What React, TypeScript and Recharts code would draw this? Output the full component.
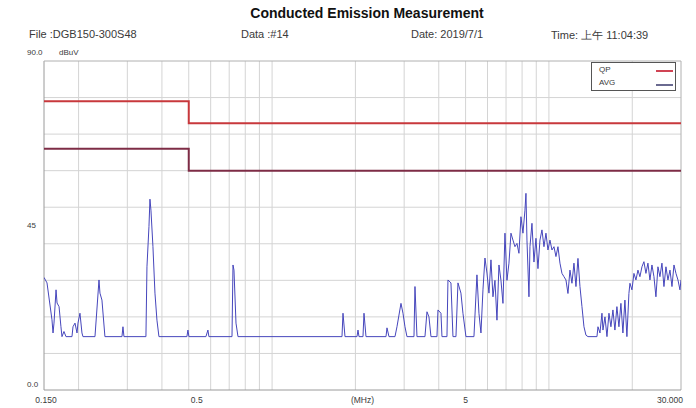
import React from 'react';
import { LineChart, Line, XAxis, YAxis, ReferenceLine } from 'recharts';

// Measured trace (frequency in MHz, level in dBuV)
const freqMHz = [
  0.15, 0.1538, 0.1603, 0.1617, 0.163, 0.1658, 0.1672, 0.17, 0.1727, 0.1742, 0.1771, 0.1801,
  0.1893, 0.1909, 0.1941, 0.1974, 0.199, 0.2023, 0.2057, 0.2074, 0.2292, 0.237, 0.2389, 0.2429,
  0.249, 0.2869, 0.2893, 0.2917, 0.3502, 0.3532, 0.3591, 0.3621, 0.3651, 0.3712, 0.3775, 0.3838,
  0.3902, 0.4924, 0.4966, 0.5007, 0.5768, 0.5864, 0.5913, 0.7164, 0.7224, 0.7284, 0.7407, 0.7531,
  1.7887, 1.8036, 1.8339, 2.0263, 2.0432, 2.0603, 2.13, 2.1478, 2.1838, 2.579, 2.6005, 2.644,
  2.7793, 2.8259, 2.9214, 2.9704, 3.0202, 3.0709, 3.255, 3.2821, 3.3372, 3.5666, 3.6265, 3.6873,
  3.7491, 3.941, 3.9739, 4.0741, 4.1082, 4.2826, 4.3183, 4.4277, 4.5019, 4.6156, 4.693, 4.8108,
  4.8915, 5.0151, 5.3604, 5.4958, 5.5879, 5.682, 5.7773, 5.8742, 5.9728, 6.0729, 6.1751, 6.2787,
  6.384, 6.4911, 6.6, 6.7106, 6.8231, 6.9375, 7.0539, 7.1722, 7.2924, 7.4147, 7.539, 7.6655,
  7.794, 7.9256, 8.0585, 8.1937, 8.2621, 8.3311, 8.4708, 8.541, 8.6842, 8.8299, 8.978, 9.1285,
  9.282, 9.4377, 9.596, 9.757, 9.9205, 10.087, 10.256, 10.428, 10.603, 10.781, 10.962, 11.146,
  11.333, 11.523, 11.716, 11.913, 12.113, 12.316, 12.522, 12.732, 12.946, 13.163, 13.384, 13.608,
  13.837, 14.913, 15.038, 15.29, 15.546, 15.676, 15.939, 16.206, 16.478, 16.749, 17.03, 17.315,
  17.605, 17.901, 18.201, 18.506, 18.816, 19.132, 19.453, 19.62, 19.949, 20.284, 20.624, 20.97,
  21.32, 21.678, 22.041, 22.411, 22.787, 23.17, 23.559, 23.954, 24.355, 24.764, 25.18, 25.602,
  26.032, 26.468, 26.912, 27.37, 27.829, 28.296, 28.77, 29.253, 29.74, 30.0,
];
const levelDb = [
  30.8, 29.3, 19.2, 15.6, 18.3, 27.4, 23.8, 22.8, 17.3, 14.6, 16.0, 14.6,
  14.6, 17.3, 18.3, 15.6, 18.3, 21.0, 15.6, 14.6, 14.6, 30.1, 26.5, 24.6,
  14.6, 14.6, 17.3, 14.6, 14.6, 33.7, 44.7, 52.2, 49.2, 39.2, 26.5, 19.1,
  14.6, 14.6, 16.4, 14.6, 14.6, 16.4, 14.6, 14.6, 34.2, 32.8, 18.3, 14.6,
  14.6, 21.0, 14.6, 14.6, 16.4, 14.6, 14.6, 21.0, 14.6, 14.6, 17.0, 14.6,
  14.6, 17.3, 23.7, 21.0, 17.3, 14.6, 14.6, 28.3, 14.6, 14.6, 21.4, 20.0,
  14.6, 14.6, 21.9, 21.0, 14.6, 14.6, 30.1, 29.3, 14.6, 14.6, 29.3, 26.5,
  21.0, 14.6, 14.6, 31.5, 21.0, 15.6, 27.4, 36.1, 32.0, 26.5, 35.6, 25.5,
  30.0, 19.1, 34.2, 30.0, 23.7, 42.9, 30.0, 34.7, 42.9, 41.0, 39.2, 40.1,
  37.4, 47.4, 42.9, 49.2, 53.8, 41.0, 25.5, 39.2, 45.6, 35.0, 41.5, 33.2,
  41.0, 43.8, 39.2, 42.9, 38.3, 41.0, 38.3, 39.2, 36.5, 39.2, 34.7, 31.9,
  31.0, 30.1, 26.4, 32.8, 29.2, 34.7, 28.3, 36.0, 28.3, 22.8, 17.3, 15.0,
  14.6, 14.6, 17.3, 15.6, 21.0, 16.4, 20.0, 14.6, 21.0, 17.3, 21.9, 16.4,
  22.8, 17.3, 23.7, 15.6, 24.6, 14.6, 26.4, 29.2, 27.4, 31.9, 30.1, 32.8,
  31.0, 33.7, 35.1, 31.9, 34.7, 30.1, 34.2, 31.0, 25.5, 33.7, 31.0, 34.7,
  28.3, 33.7, 30.1, 32.8, 28.3, 34.2, 31.9, 30.1, 27.4, 30.1,
];

// Limit lines
const qpLimitFreq = [0.15, 0.5, 0.5, 30];
const qpLimitDb = [79, 79, 73, 73];
const avgLimitFreq = [0.15, 0.5, 0.5, 30];
const avgLimitDb = [66, 66, 60, 60];

// Grid and ticks
const gridFreqs = [0.2, 0.3, 0.4, 0.5, 0.6, 0.7, 0.8, 0.9, 1, 2, 3, 4, 5, 6, 7, 8, 9, 10, 20];
const gridLevels = [10, 20, 30, 40, 50, 60, 70, 80];
const xTickValues = [0.15, 0.5, 5, 30];
const xTickLabels = ['0.150', '0.5', '5', '30.000'];
const yTickValues = [0, 45, 90];
const yTickLabels = ['0.0', '45', '90.0'];
const legendNames = ['QP', 'AVG'];

const traceData = freqMHz.map((f, i) => ({ f, db: levelDb[i] }));
const qpData = qpLimitFreq.map((f, i) => ({ f, db: qpLimitDb[i] }));
const avgData = avgLimitFreq.map((f, i) => ({ f, db: avgLimitDb[i] }));

const FONT = '"Liberation Sans", Arial, sans-serif';
const TEXT = '#3a3a3a';

const XTick = (props: any) => {
  const { x, y, payload } = props;
  const i = xTickValues.indexOf(payload.value);
  const label = i >= 0 ? xTickLabels[i] : '';
  let anchor: 'start' | 'middle' | 'end' = 'middle';
  let dx = 0;
  if (i === 0) dx = 2;
  if (i === 1) dx = 8;
  if (i === 3) { anchor = 'end'; dx = 2; }
  return (
    <text x={x + dx} y={y} dy={5} textAnchor={anchor} fontSize={8.5} fill={TEXT} fontFamily={FONT}>
      {label}
    </text>
  );
};

const YTick = (props: any) => {
  const { y, payload, x } = props;
  const i = yTickValues.indexOf(payload.value);
  const label = i >= 0 ? yTickLabels[i] : '';
  const lx = x - 9;
  let dy = 2;
  if (payload.value === 0) dy = -3;
  if (payload.value === 90) dy = -6;
  return (
    <g>
      <text x={lx} y={y} dy={dy} textAnchor="start" fontSize={8} fill={TEXT} fontFamily={FONT}>
        {label}
      </text>
      {payload.value === 90 ? (
        <text x={lx + 32} y={y} dy={dy} textAnchor="start" fontSize={8} fill={TEXT} fontFamily={FONT}>
          dBuV
        </text>
      ) : null}
    </g>
  );
};

const LegendBox = () => (
  <div
    style={{
      position: 'absolute',
      left: 591,
      top: 62,
      width: 85,
      height: 29,
      border: '1px solid #555',
      background: '#fff',
      fontFamily: FONT,
      fontSize: 8,
      color: TEXT,
      boxSizing: 'border-box',
    }}
  >
    <div style={{ position: 'absolute', left: 7, top: 2 }}>{legendNames[0]}</div>
    <div style={{ position: 'absolute', left: 64, top: 7, width: 17, height: 2, background: '#d04454' }} />
    <div style={{ position: 'absolute', left: 7, top: 15 }}>{legendNames[1]}</div>
    <div style={{ position: 'absolute', left: 64, top: 21, width: 17, height: 2, background: '#6a6a90' }} />
  </div>
);

export default function App() {
  return (
    <div style={{ position: 'absolute', left: 0, top: 0, width: 696, height: 408, background: '#fff' }}>
      <div
        style={{
          position: 'absolute',
          left: 0,
          width: 734,
          top: 5,
          textAlign: 'center',
          fontFamily: FONT,
          fontWeight: 'bold',
          fontSize: 14,
          color: '#111',
        }}
      >
        Conducted Emission Measurement
      </div>
      <div style={{ position: 'absolute', left: 29, top: 28, fontFamily: FONT, fontSize: 11, color: TEXT }}>
        File :DGB150-300S48
      </div>
      <div style={{ position: 'absolute', left: 241, top: 28, fontFamily: FONT, fontSize: 11, color: TEXT }}>
        Data :#14
      </div>
      <div style={{ position: 'absolute', left: 411, top: 28, fontFamily: FONT, fontSize: 11, color: TEXT }}>
        Date: 2019/7/1
      </div>
      <div style={{ position: 'absolute', left: 551, top: 28, fontFamily: FONT, fontSize: 11, color: TEXT }}>
        Time: 上午 11:04:39
      </div>
      <div style={{ position: 'absolute', left: 0, top: 0 }}>
        <LineChart width={696} height={408} margin={{ top: 61, right: 15, bottom: 0, left: 4 }}>
          <XAxis
            dataKey="f"
            type="number"
            scale="log"
            domain={[0.15, 30]}
            allowDataOverflow
            ticks={xTickValues}
            tick={<XTick />}
            axisLine={false}
            tickLine={false}
            height={18}
            interval={0}
            label={{ value: '(MHz)', position: 'insideTop', offset: 7, fontSize: 8.5, fill: TEXT, fontFamily: FONT }}
          />
          <YAxis
            type="number"
            domain={[0, 90]}
            allowDataOverflow
            ticks={yTickValues}
            tick={<YTick />}
            axisLine={false}
            tickLine={false}
            width={40}
            interval={0}
          />
          {gridFreqs.map((f) => (
            <ReferenceLine key={'gx' + f} x={f} stroke="#d4d4d4" strokeWidth={1} />
          ))}
          {gridLevels.map((v) => (
            <ReferenceLine key={'gy' + v} y={v} stroke="#d4d4d4" strokeWidth={1} />
          ))}
          <ReferenceLine x={0.15} stroke="#9a9a9a" strokeWidth={1} />
          <ReferenceLine x={30} stroke="#b0b0b0" strokeWidth={1} />
          <ReferenceLine y={0} stroke="#9a9a9a" strokeWidth={1} />
          <ReferenceLine y={90} stroke="#b0b0b0" strokeWidth={1} />
          <Line data={qpData} dataKey="db" type="linear" stroke="#c8383c" strokeWidth={2} dot={false} isAnimationActive={false} />
          <Line data={avgData} dataKey="db" type="linear" stroke="#7e2c46" strokeWidth={2} dot={false} isAnimationActive={false} />
          <Line data={traceData} dataKey="db" type="linear" stroke="#4646bc" strokeWidth={1} dot={false} isAnimationActive={false} />
        </LineChart>
      </div>
      <LegendBox />
    </div>
  );
}
